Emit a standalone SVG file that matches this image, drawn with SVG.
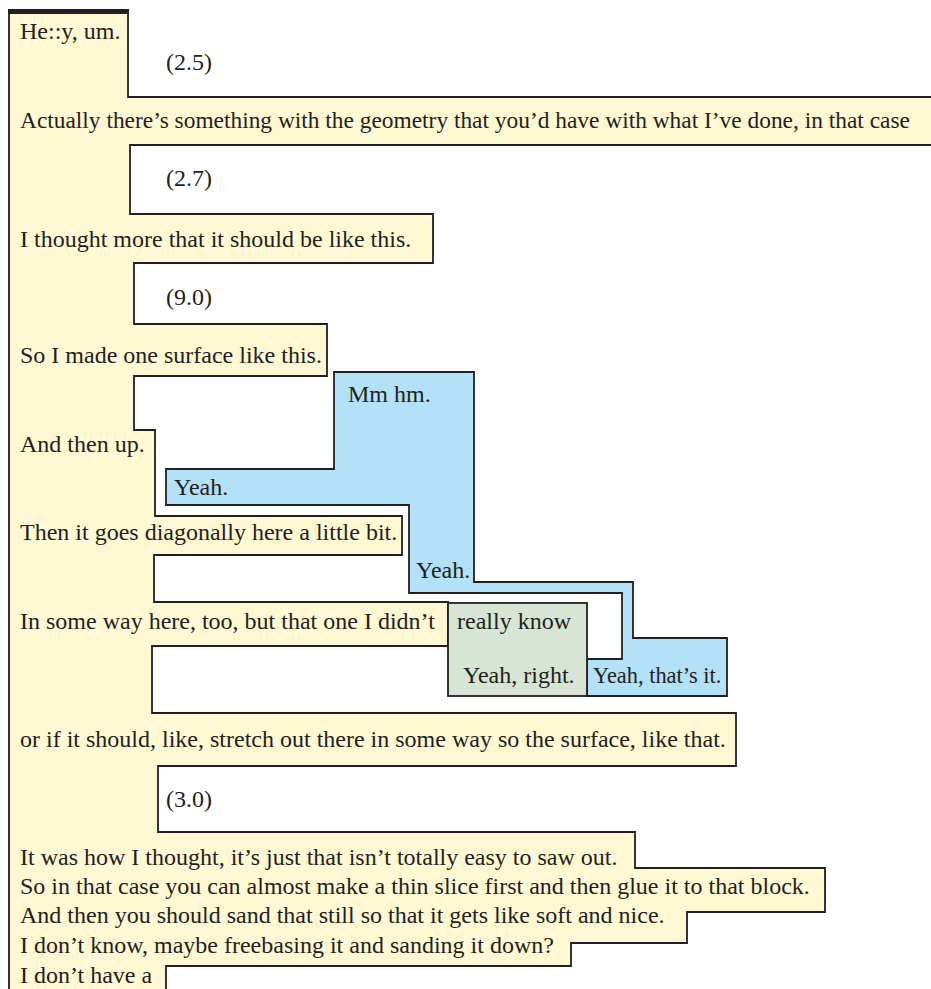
<svg xmlns="http://www.w3.org/2000/svg" width="931" height="989" viewBox="0 0 931 989">
<style>
.sh{stroke:#231f20;stroke-width:1.8;stroke-linejoin:miter}
.y{fill:#fff8d2}
.b{fill:#b3e1f7}
.g{fill:#d7e5d5}
text{font-family:"Liberation Serif","DejaVu Serif",serif;font-size:24px;fill:#231f20}
</style>
<g id="speaker-a">
<path class="sh y" d="M9,11 L128,11 L128,97 L940,97 L940,145 L130,145 L130,214 L433,214 L433,263 L134,263 L134,324 L327,324 L327,376 L134,376 L134,430 L155,430 L155,516 L402,516 L402,555 L154,555 L154,602 L448,602 L448,646 L152,646 L152,713 L736,713 L736,766 L158,766 L158,832 L635,832 L635,868 L825,868 L825,912 L687,912 L687,943 L571,943 L571,966 L166,966 L166,1000 L9,1000 Z"/>
<line x1="8" y1="11.5" x2="129" y2="11.5" stroke="#231f20" stroke-width="5"/>
<text x="20" y="39">He::y, um.</text>
<text x="20" y="128" style="font-size:23.4px">Actually there’s something with the geometry that you’d have with what I’ve done, in that case</text>
<text x="20" y="247">I thought more that it should be like this.</text>
<text x="20" y="363">So I made one surface like this.</text>
<text x="20" y="452">And then up.</text>
<text x="20" y="540">Then it goes diagonally here a little bit.</text>
<text x="20" y="629">In some way here, too, but that one I didn’t</text>
<text x="20" y="747">or if it should, like, stretch out there in some way so the surface, like that.</text>
<text x="20" y="865">It was how I thought, it’s just that isn’t totally easy to saw out.</text>
<text x="20" y="894">So in that case you can almost make a thin slice first and then glue it to that block.</text>
<text x="20" y="923">And then you should sand that still so that it gets like soft and nice.</text>
<text x="20" y="953">I don’t know, maybe freebasing it and sanding it down?</text>
<text x="20" y="983">I don’t have a</text>
</g>
<g id="pauses">
<text x="166" y="70">(2.5)</text>
<text x="166" y="186">(2.7)</text>
<text x="166" y="305">(9.0)</text>
<text x="166" y="807">(3.0)</text>
</g>
<g id="speaker-b">
<path class="sh b" d="M334,372 L474,372 L474,582 L633,582 L633,638 L727,638 L727,696 L587,696 L587,659 L622,659 L622,593 L409,593 L409,505 L166,505 L166,469 L334,469 Z"/>
<text x="348" y="402">Mm hm.</text>
<text x="174" y="495">Yeah.</text>
<text x="416" y="578">Yeah.</text>
<text x="593" y="683" style="font-size:22.4px">Yeah, that’s it.</text>
</g>
<g id="speaker-c">
<rect class="sh g" x="448" y="603" width="139" height="93"/>
<text x="457" y="629">really know</text>
<text x="463" y="683">Yeah, right.</text>
</g>
<g id="connectors"></g>
</svg>
